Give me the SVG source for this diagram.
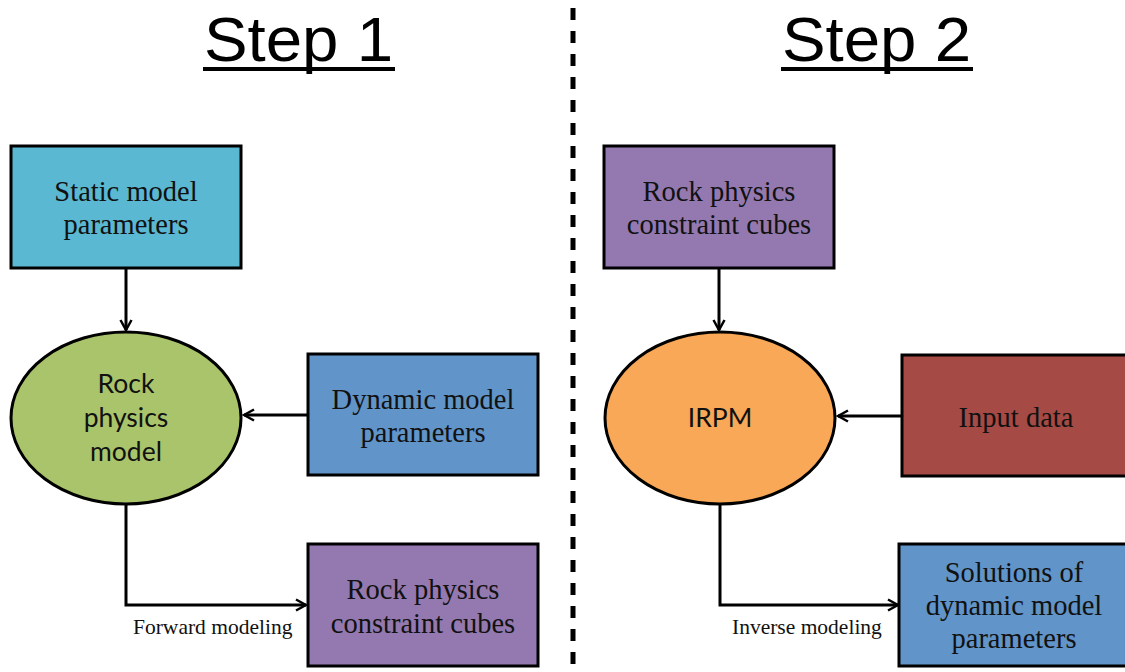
<svg xmlns="http://www.w3.org/2000/svg" width="1125" height="672" viewBox="0 0 1125 672">
<defs>
<style>
.box{stroke:#000;stroke-width:3}
.ell{stroke:#000;stroke-width:3}
.t{font-family:"Liberation Serif","Times New Roman",serif;font-size:28.5px;fill:#111;text-anchor:middle}
.s{font-family:Lato,"Open Sans",sans-serif;font-size:26.5px;fill:#111;text-anchor:middle}
.lbl{font-family:"Liberation Serif","Times New Roman",serif;font-size:21.5px;fill:#111}
.title{font-family:"Liberation Sans",Arial,sans-serif;font-size:63px;fill:#000}
.c{fill:none;stroke:#000;stroke-width:3}
</style>
<marker id="ah" viewBox="0 0 14 14" refX="12" refY="7" markerWidth="14" markerHeight="14" markerUnits="userSpaceOnUse" orient="auto">
<path d="M2,1.5 L12,7 L2,12.5" fill="none" stroke="#000" stroke-width="2.5"/>
</marker>
</defs>
<rect width="1125" height="672" fill="#fff"/>

<g id="titles">
<text class="title" x="204" y="61" textLength="189" lengthAdjust="spacingAndGlyphs">Step 1</text>
<line x1="203" y1="69" x2="395" y2="69" stroke="#000" stroke-width="4"/>
<text class="title" x="782" y="61" textLength="189" lengthAdjust="spacingAndGlyphs">Step 2</text>
<line x1="781" y1="69" x2="973" y2="69" stroke="#000" stroke-width="4"/>
</g>

<g id="divider">
<line x1="573" y1="8" x2="573" y2="672" stroke="#000" stroke-width="5" stroke-dasharray="12,11"/>
</g>

<g id="connectors">
<line class="c" x1="126" y1="268" x2="126" y2="330" marker-end="url(#ah)"/>
<line class="c" x1="308" y1="415" x2="244" y2="415" marker-end="url(#ah)"/>
<polyline class="c" points="126,504 126,605 306,605" marker-end="url(#ah)"/>
<text class="lbl" x="133" y="634">Forward modeling</text>
<line class="c" x1="719" y1="268" x2="719" y2="330" marker-end="url(#ah)"/>
<line class="c" x1="902" y1="416" x2="838" y2="416" marker-end="url(#ah)"/>
<polyline class="c" points="720,504 720,605 898,605" marker-end="url(#ah)"/>
<text class="lbl" x="732" y="634">Inverse modeling</text>
</g>

<g id="static">
<rect class="box" x="11" y="146" width="230" height="122" fill="#5ab8d2"/>
<text class="t" x="126" y="201">Static model</text>
<text class="t" x="126" y="234">parameters</text>
</g>

<g id="rpm">
<ellipse class="ell" cx="126" cy="418" rx="115" ry="86" fill="#a9c46b"/>
<text class="s" x="126" y="393">Rock</text>
<text class="s" x="126" y="427">physics</text>
<text class="s" x="126" y="461">model</text>
</g>

<g id="dynamic">
<rect class="box" x="308" y="354" width="230" height="121" fill="#6194c8"/>
<text class="t" x="423" y="409">Dynamic model</text>
<text class="t" x="423" y="442">parameters</text>
</g>

<g id="cubes1">
<rect class="box" x="308" y="544" width="230" height="122" fill="#9479b0"/>
<text class="t" x="423" y="599">Rock physics</text>
<text class="t" x="423" y="633">constraint cubes</text>
</g>

<g id="cubes2">
<rect class="box" x="604" y="146" width="230" height="122" fill="#9479b0"/>
<text class="t" x="719" y="201">Rock physics</text>
<text class="t" x="719" y="234">constraint cubes</text>
</g>

<g id="irpm">
<ellipse class="ell" cx="720" cy="418" rx="115" ry="86" fill="#f8a857"/>
<text class="s" x="720" y="427">IRPM</text>
</g>

<g id="input">
<rect class="box" x="902" y="355" width="230" height="121" fill="#a54a44"/>
<text class="t" x="1016" y="427">Input data</text>
</g>

<g id="solutions">
<rect class="box" x="899" y="544" width="232" height="122" fill="#6194c8"/>
<text class="t" x="1014" y="582">Solutions of</text>
<text class="t" x="1014" y="615">dynamic model</text>
<text class="t" x="1014" y="648">parameters</text>
</g>
</svg>
